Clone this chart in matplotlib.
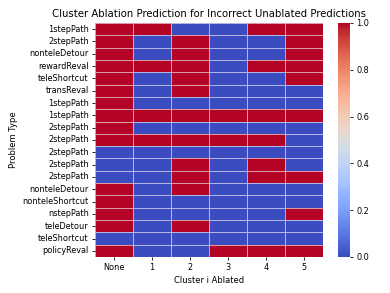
import matplotlib

matplotlib.use("Agg")

import matplotlib.pyplot as plt
import numpy as np
import seaborn as sns

PROBLEM_TYPES = [
    "1stepPath", "2stepPath", "nonteleDetour", "rewardReval", "teleShortcut",
    "transReval", "1stepPath", "1stepPath", "2stepPath", "2stepPath",
    "2stepPath", "2stepPath", "2stepPath", "nonteleDetour", "nonteleShortcut",
    "nstepPath", "teleDetour", "teleShortcut", "policyReval",
]
CLUSTERS = ["None", "1", "2", "3", "4", "5"]
PREDICTIONS = [
    [1, 1, 0, 0, 1, 1],
    [1, 0, 1, 0, 0, 1],
    [1, 0, 1, 0, 0, 1],
    [1, 1, 1, 0, 1, 1],
    [1, 0, 1, 0, 0, 1],
    [1, 0, 1, 0, 0, 0],
    [1, 0, 0, 0, 0, 0],
    [1, 1, 1, 1, 1, 1],
    [1, 0, 0, 0, 0, 0],
    [1, 1, 1, 1, 1, 0],
    [0, 0, 0, 0, 0, 0],
    [0, 0, 1, 0, 1, 0],
    [0, 0, 1, 0, 1, 1],
    [1, 0, 1, 0, 0, 0],
    [1, 0, 0, 0, 0, 0],
    [1, 0, 0, 0, 0, 1],
    [1, 0, 1, 0, 0, 0],
    [0, 0, 0, 0, 0, 0],
    [1, 0, 0, 1, 1, 1],
]

fig = plt.figure(figsize=(3.9, 2.93), dpi=100)
ax = fig.add_axes([95 / 390, 1 - 257 / 293, 228 / 390, 234 / 293])
cax = fig.add_axes([338 / 390, 1 - 257 / 293, 12 / 390, 234 / 293])

sns.heatmap(
    np.array(PREDICTIONS, dtype=float),
    ax=ax,
    cbar_ax=cax,
    cmap="coolwarm",
    vmin=0,
    vmax=1,
    linewidths=0.5,
    linecolor=(1, 1, 1, 0.6),
    xticklabels=CLUSTERS,
    yticklabels=PROBLEM_TYPES,
)

ax.set_title("Cluster Ablation Prediction for Incorrect Unablated Predictions", fontsize=7.3, pad=4)
ax.set_xlabel("Cluster i Ablated", fontsize=6, labelpad=3)
ax.set_ylabel("Problem Type", fontsize=6, labelpad=3)
ax.tick_params(axis="both", labelsize=5.9, length=2.5, width=0.6, pad=2)
ax.tick_params(axis="y", rotation=0)
cax.tick_params(labelsize=5.9, length=2.5, width=0.6, pad=2)
cax.set_yticks([0.0, 0.2, 0.4, 0.6, 0.8, 1.0])

fig.savefig("out.png", dpi=100)
